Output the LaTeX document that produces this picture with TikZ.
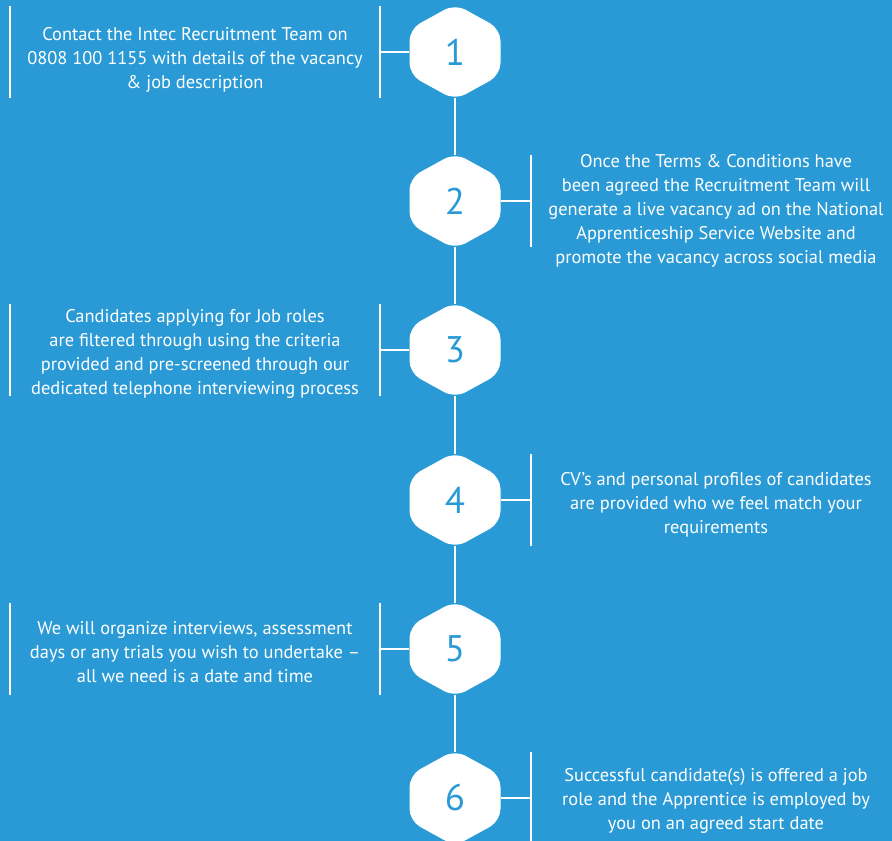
\documentclass[tikz,border=0pt]{standalone}
\usepackage{fontspec}
\setmainfont{PT Sans}
\usepackage{tikz}
\usetikzlibrary{positioning,calc}
\definecolor{stepblue}{RGB}{41,154,214}

\begin{document}
\begin{tikzpicture}[
    x=1pt, y=-1pt,
    hexnum/.style={rectangle, minimum width=91pt, minimum height=92pt, inner sep=0pt, text=stepblue, font=\fontsize{37}{37}\selectfont},
    stepnote/.style={align=center, text=white, font=\fontsize{18.4}{24}\selectfont},
    rail/.style={white, line width=2pt},
    tick/.style={white, line width=1.3pt}
]
    \fill[stepblue] (0,0) rectangle (892,841);
    \useasboundingbox (0,0) rectangle (892,841);

    % hexagons with the step numbers
    \foreach \n/\y in {1/52,2/201,3/350,4/500,5/649,6/798} {
        \fill[white, rounded corners=12pt] (455,\y-48) -- (500.5,\y-23) -- (500.5,\y+23) -- (455,\y+48) -- (409.5,\y+23) -- (409.5,\y-23) -- cycle;
        \node[hexnum] (hex\n) at (455,\y) {\n};
    }

    \foreach \a/\b in {1/2,2/3,3/4,4/5,5/6}
        \draw[rail] (hex\a.south) -- (hex\b.north);

    % brackets, left side
    \foreach \n/\y in {1/52,3/350,5/649} {
        \coordinate (tick\n) at (380,\y);
        \draw[tick] (hex\n.west) -- (tick\n);
        \draw[tick] (380,\y-46) -- (380,\y+46);
        \draw[tick] (10,\y-46) -- (10,\y+46);
    }
    % brackets, right side
    \foreach \n/\y in {2/201,4/500,6/798} {
        \coordinate (tick\n) at (531,\y);
        \draw[tick] (hex\n.east) -- (tick\n);
        \draw[tick] (531,\y-46) -- (531,\y+46);
    }

    \node[stepnote] (note1) at (195,60) {Contact the Intec Recruitment Team on\\0808 100 1155 with details of the vacancy\\\& job description};
    \node[stepnote] (note2) at (716,211) {Once the Terms \& Conditions have\\been agreed the Recruitment Team will\\generate a live vacancy ad on the National\\Apprenticeship Service Website and\\promote the vacancy across social media};
    \node[stepnote] (note3) at (195,354) {Candidates applying for Job roles\\are filtered through using the criteria\\provided and pre-screened through our\\dedicated telephone interviewing process};
    \node[stepnote] (note4) at (716,505) {CV’s and personal profiles of candidates\\are provided who we feel match your\\requirements};
    \node[stepnote] (note5) at (195,652) {We will organize interviews, assessment\\days or any trials you wish to undertake --\\all we need is a date and time};
    \node[stepnote] (note6) at (716,801) {Successful candidate(s) is offered a job\\role and the Apprentice is employed by\\you on an agreed start date};

\end{tikzpicture}
\end{document}
